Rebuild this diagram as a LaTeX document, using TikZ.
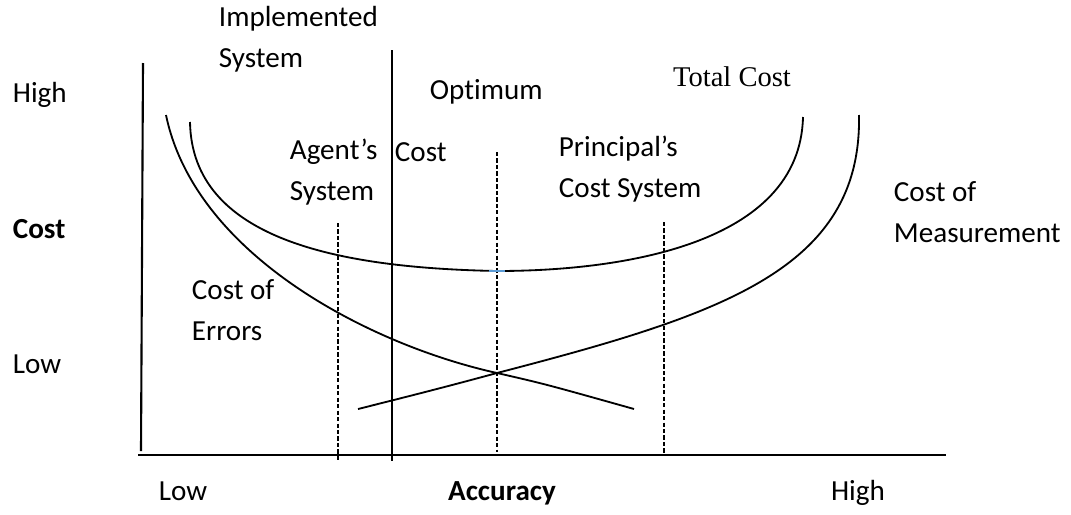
\documentclass[tikz,border=0pt]{standalone}
\usepackage{fontspec}
\setmainfont{Carlito}[Ligatures=NoCommon]
\newfontfamily\serifrm{Liberation Serif}
\usetikzlibrary{positioning}

\begin{document}
\begin{tikzpicture}[x=0.025cm,y=-0.025cm,line width=1.3pt,
  lbl/.style={anchor=west,inner sep=0pt,align=left,font=\fontsize{20.7}{29}\selectfont},
  axlbl/.style={anchor=base,inner sep=0pt,font=\fontsize{20.7}{29}\selectfont},
  guide/.style={line width=1pt,dash pattern=on 3pt off 1.6pt},
  curve/.style={line width=1.3pt}]
	\useasboundingbox (0,0) rectangle (1071,514);
	% axes
	\coordinate (y_top) at (143,63);
	\coordinate (y_bot) at (141,451);
	\coordinate (x_left) at (138,455);
	\coordinate (x_right) at (946,455);
	\draw[line width=1.5pt] (y_top) -- (y_bot);
	\draw[line width=1.5pt] (x_left) -- (x_right);
	% implemented system and dashed markers
	\coordinate (impl_top) at (392,50);
	\coordinate (impl_bot) at (392,461);
	\draw (impl_top) -- (impl_bot);
	\coordinate (agent_top) at (338,223);
	\coordinate (agent_bot) at (338,461);
	\coordinate (opt_top) at (497,152);
	\coordinate (opt_bot) at (497,452);
	\coordinate (princ_top) at (664,222);
	\coordinate (princ_bot) at (664,455);
	\draw[guide] (agent_top) -- (agent_bot);
	\draw[guide] (opt_top) -- (opt_bot);
	\draw[guide] (princ_top) -- (princ_bot);
	% curves
	\coordinate (tc_l) at (190,122);
	\coordinate (tc_min) at (497,271);
	\coordinate (tc_r) at (803,117);
	\coordinate (err_s) at (166,115);
	\coordinate (cross) at (497,373);
	\coordinate (err_e) at (634,409);
	\coordinate (meas_s) at (358,409);
	\coordinate (meas_e) at (859,115);
	\draw[curve] (tc_l) .. controls (192,240) and (340,268) .. (tc_min)
		.. controls (620,271) and (800,245) .. (tc_r);
	\draw[curve] (err_s) .. controls (195,255) and (370,345) .. (cross)
		.. controls (545,384) .. (err_e);
	\draw[curve] (meas_s) .. controls (430,391) and (460,383) .. (cross)
		.. controls (720,315) and (862,270) .. (meas_e);
	\draw[line width=1.3pt,color={rgb,255:red,91;green,155;blue,213}] (489,271) -- (505,271);
	% labels
	\node[lbl] (impl) at (218,39) {Implemented\\System};
	\node[lbl] (agent) at (289,172) {Agent’s\\System};
	\node[lbl] (agentcost) at (394,152) {Cost};
	\node[lbl] (optimum) at (429,92) {Optimum};
	\node[lbl] (principal) at (558,169) {Principal’s\\Cost System};
	\node[lbl] (measure) at (893,212) {Cost of\\Measurement};
	\node[lbl] (errors) at (191,310) {Cost of\\Errors};
	\node[inner sep=0pt,font=\serifrm\fontsize{20.3}{24}\selectfont] (total) at (732,77) {Total Cost};
	\node[lbl,anchor=base west] (c_high) at (12,102) {High};
	\node[lbl,anchor=base west,font=\fontsize{20.7}{29}\selectfont\bfseries] (c_cost) at (12,238) {Cost};
	\node[lbl,anchor=base west] (c_low) at (12,373) {Low};
	\node[axlbl] (a_low) at (183,500) {Low};
	\node[axlbl,font=\fontsize{20.7}{29}\selectfont\bfseries] (a_acc) at (502,500) {Accuracy};
	\node[axlbl] (a_high) at (858,500) {High};
\end{tikzpicture}
\end{document}
